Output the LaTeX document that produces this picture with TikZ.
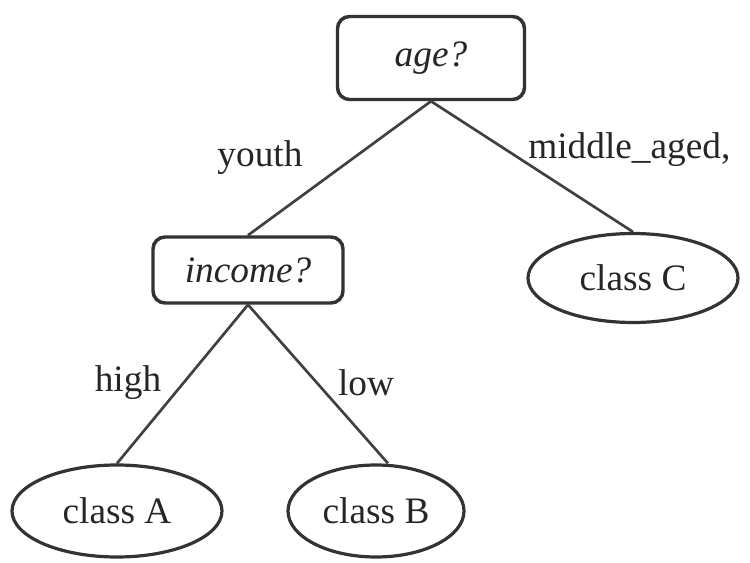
\documentclass[tikz,border=0pt]{standalone}
\usepackage{fontspec}
\setmainfont{Liberation Serif}
\usetikzlibrary{shapes.geometric}
\begin{document}
\begin{tikzpicture}[x=0.75pt,y=-0.75pt,
  every node/.style={font=\fontsize{28}{34}\selectfont, text=black!85},
  test/.style={draw=black!80, line width=2.6pt, rounded corners=9pt, minimum width=187*0.75pt, inner sep=0pt},
  leaf/.style={draw=black!80, line width=2.4pt, ellipse, inner sep=0pt},
  edge/.style={draw=black!75, line width=2pt},
  lbl/.style={inner sep=0pt}]
\useasboundingbox (0,0) rectangle (750,563);
% decision nodes
\node[test, minimum height=83*0.75pt] (age) at (431,58) {\itshape age?};
\node[test, minimum width=190*0.75pt, minimum height=66*0.75pt] (income) at (248,270) {\itshape income?};
% leaves
\node[leaf, minimum width=210*0.75pt, minimum height=89*0.75pt] (classC) at (633,278) {class C};
\node[leaf, minimum width=210*0.75pt, minimum height=92*0.75pt] (classA) at (117,511) {class A};
\node[leaf, minimum width=176*0.75pt, minimum height=92*0.75pt] (classB) at (376,511) {class B};
% branches
\draw[edge] (age.south) -- (income.north);
\draw[edge] (age.south) -- (classC.north);
\draw[edge] (income.south) -- (classA.north);
\draw[edge] (income.south) -- ([xshift=9pt]classB.north);
% branch labels
\node[lbl] (lyouth) at (260,158) {youth};
\node[lbl, anchor=west] (lmid) at (528,150) {middle\_aged,};
\node[lbl] (lhigh) at (128,383) {high};
\node[lbl] (llow) at (366,383) {low};
\end{tikzpicture}
\end{document}
